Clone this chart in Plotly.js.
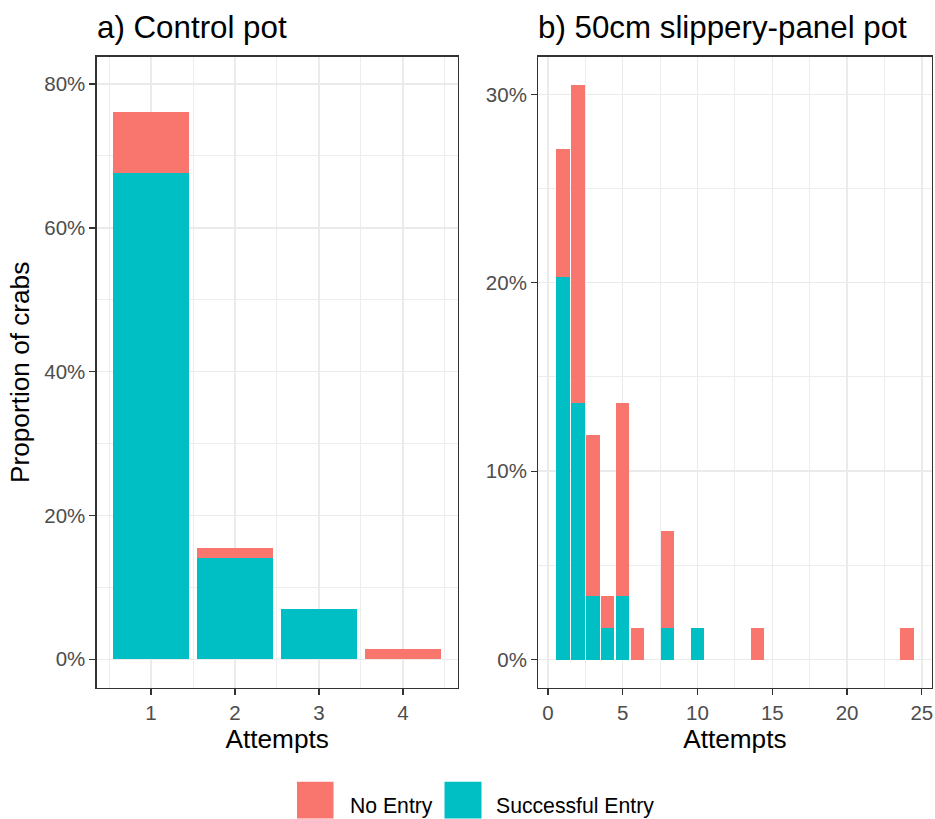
<!DOCTYPE html>
<html>
<head>
<meta charset="utf-8">
<script src="https://cdn.plot.ly/plotly-3.0.1.min.js"></script>
<style>
  html, body { margin: 0; padding: 0; background: #ffffff; }
  #chart { width: 935px; height: 819px; }
</style>
</head>
<body>
<div id="chart"></div>
<script>
// ---- Data (percent of crabs) ----
const ctrlAttempts = [1, 2, 3, 4];
const ctrlSuccess  = [67.6, 14.1, 7.0, 0];
const ctrlNoEntry  = [8.5, 1.4, 0, 1.4];

const slipAttempts = [1, 2, 3, 4, 5, 6, 8, 10, 14, 24];
const slipSuccess  = [20.3, 13.6, 3.4, 1.7, 3.4, 0, 1.7, 1.7, 0, 0];
const slipNoEntry  = [6.8, 16.9, 8.5, 1.7, 10.2, 1.7, 5.1, 0, 1.7, 1.7];

const panelTitles = ['a) Control pot', 'b) 50cm slippery-panel pot'];
const seriesNames = ['No Entry', 'Successful Entry'];
const xTitle = 'Attempts';
const yTitle = 'Proportion of crabs';
const ctrlXTicks = [1, 2, 3, 4];
const slipXTicks = [0, 5, 10, 15, 20, 25];

// ---- Styling ----
const RED = '#F8766D';
const TEAL = '#00BFC4';
const FONT = '"Liberation Sans", Arial, sans-serif';
const W = 935, H = 819;
const px = v => v / W;
const py = v => 1 - v / H;

function bar(x, y, color, name, xa, ya) {
  return {
    type: 'bar', x: x, y: y, name: name, xaxis: xa, yaxis: ya,
    width: x.map(() => 0.9),
    marker: { color: color, line: { width: 0 } },
    showlegend: false, hoverinfo: 'x+y+name'
  };
}

const traces = [
  bar(ctrlAttempts, ctrlSuccess, TEAL, seriesNames[1], 'x', 'y'),
  bar(ctrlAttempts, ctrlNoEntry, RED, seriesNames[0], 'x', 'y'),
  bar(slipAttempts, slipSuccess, TEAL, seriesNames[1], 'x2', 'y2'),
  bar(slipAttempts, slipNoEntry, RED, seriesNames[0], 'x2', 'y2')
];

const frame = {
  showline: true, mirror: true, linecolor: '#333333', linewidth: 1.3,
  ticks: 'outside', ticklen: 6, tickwidth: 1.3, tickcolor: '#333333',
  showgrid: true, gridcolor: '#EBEBEB', gridwidth: 1.4,
  zeroline: false,
  tickfont: { family: FONT, size: 20.5, color: '#4D4D4D' },
  fixedrange: true
};
const gridMinor = (t0, dt) => ({ tick0: t0, dtick: dt, showgrid: true, gridcolor: '#EDEDED', gridwidth: 1.0, ticks: '' });

const yDom = [py(688), py(56.7)];
const TITLE_SIZE = 31.3;
const AXT_SIZE = 26.2;
const LEG_SIZE = 21.2;

const layout = {
  width: W, height: H, autosize: false,
  margin: { l: 0, r: 0, t: 0, b: 0, pad: 0 },
  paper_bgcolor: '#ffffff', plot_bgcolor: '#ffffff',
  barmode: 'stack', bargap: 0,
  showlegend: false,
  font: { family: FONT, color: '#000000' },
  xaxis: Object.assign({}, frame, {
    domain: [px(96.7), px(457.7)], anchor: 'y',
    range: [0.353, 4.652], tickmode: 'array', tickvals: ctrlXTicks,
    minor: gridMinor(0.5, 1),
    title: { text: xTitle, font: { family: FONT, size: AXT_SIZE, color: '#000000' }, standoff: 3 }
  }),
  yaxis: Object.assign({}, frame, {
    domain: yDom, anchor: 'x',
    range: [-3.99, 83.8], tick0: 0, dtick: 20, ticksuffix: '%',
    minor: gridMinor(10, 20),
    title: { text: yTitle, font: { family: FONT, size: AXT_SIZE, color: '#000000' }, standoff: 7 }
  }),
  xaxis2: Object.assign({}, frame, {
    domain: [px(538.3), px(931.5)], anchor: 'y2',
    range: [-0.645, 25.645], tickmode: 'array', tickvals: slipXTicks,
    minor: gridMinor(2.5, 5),
    title: { text: xTitle, font: { family: FONT, size: AXT_SIZE, color: '#000000' }, standoff: 3 }
  }),
  yaxis2: Object.assign({}, frame, {
    domain: yDom, anchor: 'x2',
    range: [-1.51, 32.0], tick0: 0, dtick: 10, ticksuffix: '%',
    minor: gridMinor(5, 10)
  }),
  annotations: [
    { text: panelTitles[0], xref: 'paper', yref: 'paper', x: px(95), y: py(27.5),
      xanchor: 'left', yanchor: 'middle', showarrow: false,
      font: { family: FONT, size: TITLE_SIZE, color: '#000000' } },
    { text: panelTitles[1], xref: 'paper', yref: 'paper', x: px(536), y: py(27.5),
      xanchor: 'left', yanchor: 'middle', showarrow: false,
      font: { family: FONT, size: TITLE_SIZE, color: '#000000' } },
    { text: seriesNames[0], xref: 'paper', yref: 'paper', x: px(348), y: py(805.5),
      xanchor: 'left', yanchor: 'middle', showarrow: false,
      font: { family: FONT, size: LEG_SIZE, color: '#000000' } },
    { text: seriesNames[1], xref: 'paper', yref: 'paper', x: px(494), y: py(805.5),
      xanchor: 'left', yanchor: 'middle', showarrow: false,
      font: { family: FONT, size: LEG_SIZE, color: '#000000' } }
  ],
  shapes: [
    { type: 'rect', xref: 'paper', yref: 'paper', x0: px(297), x1: px(333.5), y0: py(818.5), y1: py(781.7),
      fillcolor: RED, line: { width: 0 } },
    { type: 'rect', xref: 'paper', yref: 'paper', x0: px(444.5), x1: px(481.5), y0: py(818.5), y1: py(781.7),
      fillcolor: TEAL, line: { width: 0 } }
  ]
};

Plotly.newPlot('chart', traces, layout, { displayModeBar: false, staticPlot: true });
</script>
</body>
</html>
